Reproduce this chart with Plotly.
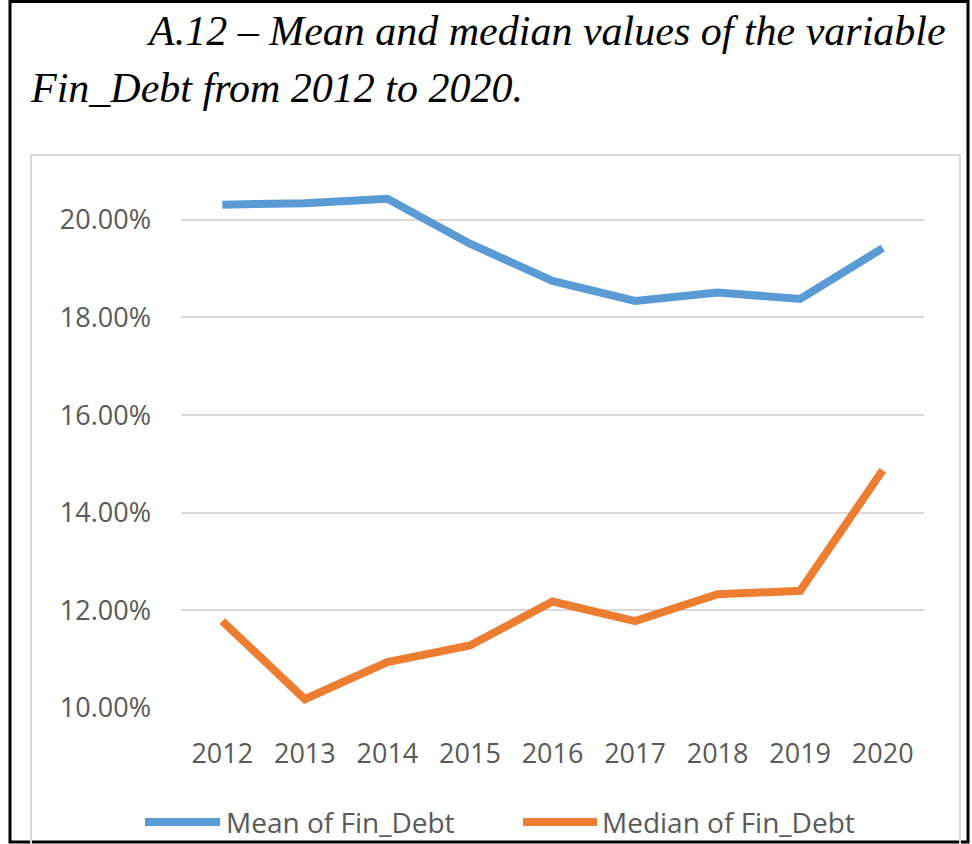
import plotly.graph_objects as go

years = ["2012", "2013", "2014", "2015", "2016", "2017", "2018", "2019", "2020"]
mean_fin_debt = [20.31, 20.34, 20.43, 19.51, 18.75, 18.34, 18.51, 18.38, 19.42]
median_fin_debt = [11.78, 10.18, 10.94, 11.28, 12.18, 11.78, 12.33, 12.40, 14.87]
series_names = ["Mean of Fin_Debt", "Median of Fin_Debt"]
series_colors = ["#5B9BD5", "#ED7D31"]
title_line1 = "A.12 – Mean and median values of the variable"
title_line2 = "Fin_Debt from 2012 to 2020."

W, H = 972, 844
L, R, T, B = 181, 924, 171, 708


def px(x):
    return (x - L) / (R - L)


def py(y):
    return (B - y) / (B - T)


fig = go.Figure()
for name, vals, col in zip(series_names, [mean_fin_debt, median_fin_debt], series_colors):
    fig.add_trace(go.Scatter(x=years, y=vals, mode="lines", name=name,
                             line=dict(color=col, width=8), showlegend=False))

tick_font = dict(family="Open Sans", size=27, color="#595959")
fig.update_layout(
    width=W, height=H,
    margin=dict(l=L, r=W - R, t=T, b=H - B, pad=0),
    paper_bgcolor="white", plot_bgcolor="white",
    xaxis=dict(type="category", range=[-0.5, len(years) - 0.5],
               showgrid=False, showline=False, zeroline=False,
               ticks="", tickfont=tick_font, ticklabelstandoff=27),
    yaxis=dict(range=[10, 21], tick0=10, dtick=2, tickformat=".2f", ticksuffix="%",
               showgrid=True, gridcolor="#D9D9D9", gridwidth=2, zeroline=False,
               showline=False, ticks="", tickfont=tick_font, ticklabelstandoff=29),
)

shapes = []
# outer black frame
shapes.append(dict(type="rect", xref="paper", yref="paper",
                   x0=px(10), x1=px(968), y0=py(1.5), y1=py(842),
                   line=dict(color="black", width=3), fillcolor="rgba(0,0,0,0)", layer="below"))
# inner chart border
shapes.append(dict(type="rect", xref="paper", yref="paper",
                   x0=px(31), x1=px(960), y0=py(155), y1=py(860),
                   line=dict(color="#D9D9D9", width=2), fillcolor="rgba(0,0,0,0)", layer="below"))

annotations = [
    dict(text="<i>" + title_line1 + "</i>", xref="paper", yref="paper",
         x=px(948), y=py(31.5), xanchor="right", yanchor="middle", showarrow=False,
         font=dict(family="Liberation Serif", size=42, color="black")),
    dict(text="<i>" + title_line2 + "</i>", xref="paper", yref="paper",
         x=px(28), y=py(87.5), xanchor="left", yanchor="middle", showarrow=False,
         font=dict(family="Liberation Serif", size=42, color="black")),
]

# legend (custom, Excel style long line symbols)
leg_y = 822
leg_items = [(145, 220, 224), (523, 597, 600)]
for (x0, x1, tx), name, col in zip(leg_items, series_names, series_colors):
    shapes.append(dict(type="line", xref="paper", yref="paper",
                       x0=px(x0), x1=px(x1), y0=py(leg_y), y1=py(leg_y),
                       line=dict(color=col, width=8)))
    annotations.append(dict(text=name, xref="paper", yref="paper",
                            x=px(tx), y=py(leg_y), xanchor="left", yanchor="middle",
                            showarrow=False,
                            font=dict(family="Open Sans", size=28, color="#595959")))

fig.update_layout(shapes=shapes, annotations=annotations)
fig.write_html("out.html", config={"displayModeBar": False},
               post_script="document.body.style.margin='0';")
